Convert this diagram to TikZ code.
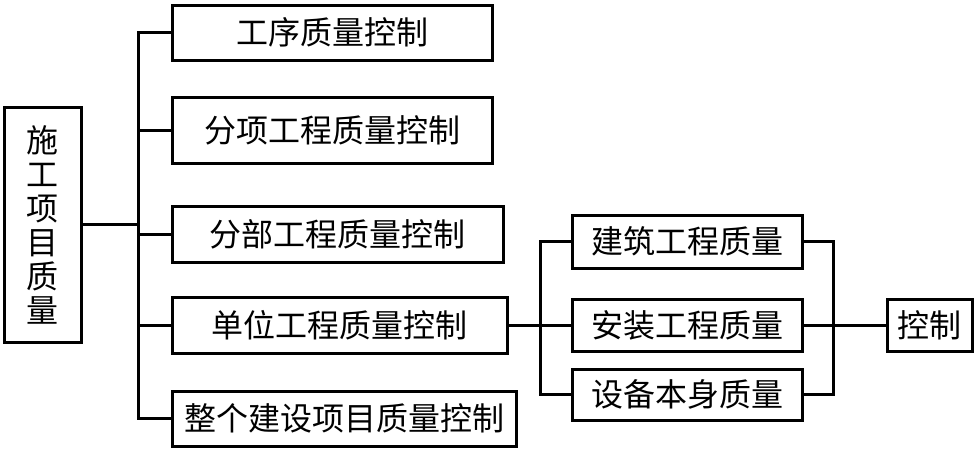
\documentclass[tikz,border=0pt]{standalone}
\usepackage{fontspec}
\newfontfamily\cjk{Noto Sans CJK SC}
\begin{document}
\begin{tikzpicture}[x=1pt,y=-1pt,
  box/.style={draw, line width=3pt, rectangle, inner sep=0pt, font=\cjk\fontsize{32}{34}\selectfont, align=center},
  conn/.style={line width=3pt}]
\useasboundingbox (0,0) rectangle (976,450);
% left box
\node[box, minimum width=77, minimum height=235] (L) at (42.5,224.5) {施\\工\\项\\目\\质\\量};
% branch boxes
\node[box, minimum width=320, minimum height=55] (b1) at (332,32.5) {工序质量控制};
\node[box, minimum width=320, minimum height=66] (b2) at (332,130.5) {分项工程质量控制};
\node[box, minimum width=331, minimum height=56] (b3) at (337.5,234) {分部工程质量控制};
\node[box, minimum width=335, minimum height=56] (b4) at (339.5,325) {单位工程质量控制};
\node[box, minimum width=344, minimum height=55] (b5) at (344,418.5) {整个建设项目质量控制};
% right boxes
\node[box, minimum width=230, minimum height=53] (A) at (687,241.5) {建筑工程质量};
\node[box, minimum width=230, minimum height=52] (B) at (687,325) {安装工程质量};
\node[box, minimum width=230, minimum height=51] (C) at (687,394.5) {设备本身质量};
\node[box, minimum width=85, minimum height=52] (K) at (929.5,325) {控制};
% junction columns
\coordinate (t) at (138,0);
\coordinate (j1) at (540,0);
\coordinate (j2) at (833,0);
% left trunk
\draw[conn] (L.east) -- (L.east -| t);
\draw[conn] (b1.west) -- (b1.west -| t) -- (b5.west -| t) -- (b5.west);
\draw[conn] (b2.west) -- (b2.west -| t);
\draw[conn] (b3.west) -- (b3.west -| t);
\draw[conn] (b4.west) -- (b4.west -| t);
% right part
\draw[conn] (b4.east) -- (B.west);
\draw[conn] (A.west) -- (A.west -| j1) -- (C.west -| j1) -- (C.west);
\draw[conn] (B.east) -- (K.west);
\draw[conn] (A.east) -- (A.east -| j2) -- (C.east -| j2) -- (C.east);
\end{tikzpicture}
\end{document}
